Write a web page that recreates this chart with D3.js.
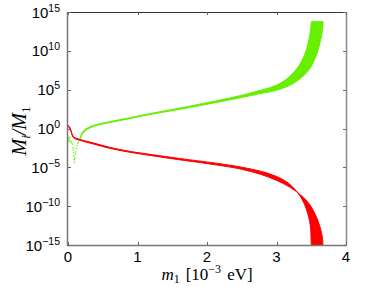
<!DOCTYPE html>
<html><head><meta charset="utf-8">
<script src="https://cdn.jsdelivr.net/npm/d3@7"></script>
<style>body{margin:0;background:#fff}svg{display:block}</style>
</head><body><svg id="c" width="382" height="287"></svg>
<script>
// values as [m1 (10^-3 eV), log10(Mi/M1)]
const greenUpper = [[0.17,-1.45],[0.2,-0.6],[0.25,-0.1],[0.36,0.38],[0.6,0.88],[0.85,1.32],[1.18,1.92],[1.6,2.62],[2.14,3.58],[2.5,4.28],[2.77,4.92],[2.98,5.5],[3.15,6.4],[3.3,7.8],[3.4,9.4],[3.46,11.2],[3.49,12.7],[3.5,13.75]];
const greenLower = [[0.17,-1.55],[0.2,-0.8],[0.25,-0.28],[0.36,0.25],[0.6,0.76],[0.85,1.2],[1.18,1.8],[1.6,2.46],[2.14,3.36],[2.5,4.0],[2.77,4.5],[2.98,4.88],[3.2,5.6],[3.39,6.8],[3.5,8.0],[3.58,9.6],[3.63,11.2],[3.66,12.6],[3.67,13.75]];
const greenDots = [[0.005,-1.2],[0.01,-1.5],[0.015,-1.7],[0.02,-1.3],[0.03,-1.1],[0.04,-1.6],[0.05,-1.8],[0.06,-2.0],[0.07,-2.5],[0.075,-2.8],[0.08,-3.1],[0.085,-3.5],[0.09,-4.0],[0.095,-4.3],[0.1,-3.8],[0.105,-3.3],[0.11,-3.0],[0.12,-2.6],[0.13,-2.2],[0.14,-1.9],[0.15,-1.75]];
const redUpper = [[0,0.45],[0.03,0.1],[0.08,-1.05],[0.17,-1.4],[0.36,-1.85],[0.6,-2.42],[0.85,-2.88],[1.18,-3.33],[1.6,-3.85],[2.14,-4.48],[2.5,-4.98],[2.77,-5.5],[2.98,-6.1],[3.15,-6.9],[3.3,-8.2],[3.4,-9.7],[3.46,-11.3],[3.49,-12.8],[3.5,-15.5]];
const redLower = [[0,0.3],[0.03,-0.05],[0.08,-1.2],[0.17,-1.52],[0.36,-1.98],[0.6,-2.55],[0.85,-3.0],[1.18,-3.47],[1.6,-4.02],[2.14,-4.7],[2.5,-5.25],[2.77,-5.9],[2.98,-6.6],[3.2,-7.6],[3.39,-8.9],[3.5,-10.1],[3.58,-11.5],[3.63,-12.8],[3.66,-14.0],[3.67,-15.5]];
const xTicks = [0,1,2,3,4];
const yTickExps = [15,10,5,0,-5,-10,-15];

const L=68,T=12,R=346,B=245;
const svg=d3.select('#c');
const x=d3.scaleLinear().domain([0,4]).range([L,R]);
const y=d3.scaleLinear().domain([-15,15]).range([B,T]);

svg.append('defs').append('clipPath').attr('id','cp').append('rect')
 .attr('x',L).attr('y',T).attr('width',R-L).attr('height',B-T);
const g=svg.append('g').attr('clip-path','url(#cp)');
const cl=d3.line().x(d=>x(d[0])).y(d=>y(d[1])).curve(d3.curveCatmullRom.alpha(0.5));
function band(up,lo,col){
  const a=cl(up), b=cl(lo.slice().reverse());
  g.append('path').attr('d',a+'L'+b.slice(1)+'Z').attr('fill',col).attr('stroke',col).attr('stroke-width',1).attr('stroke-linejoin','round');
}
band(greenUpper,greenLower,'#66f000');
band(redUpper,redLower,'#ff0000');
g.selectAll('rect.gd').data(greenDots).enter().append('rect').attr('class','gd')
 .attr('x',d=>x(d[0])-0.6).attr('y',d=>y(d[1])-0.6).attr('width',1.3).attr('height',1.3).attr('fill','#66f000');

// frame
const ax=svg.append('g');
ax.append('line').attr('x1',L).attr('x2',R).attr('y1',T+0.5).attr('y2',T+0.5).attr('stroke','#333').attr('stroke-width',1);
ax.append('line').attr('x1',R+0.5).attr('x2',R+0.5).attr('y1',T).attr('y2',B).attr('stroke','#888').attr('stroke-width',1.5);
ax.append('line').attr('x1',L-0.5).attr('x2',L-0.5).attr('y1',T).attr('y2',B+1).attr('stroke','#777').attr('stroke-width',1.5);
ax.append('line').attr('x1',L-1).attr('x2',R+1).attr('y1',B+0.5).attr('y2',B+0.5).attr('stroke','#777').attr('stroke-width',1.5);

// ticks
xTicks.forEach(t=>{
  const px=Math.round(x(t))+0.5;
  ax.append('line').attr('x1',px).attr('x2',px).attr('y1',B).attr('y2',B-3).attr('stroke','#666');
  ax.append('line').attr('x1',px).attr('x2',px).attr('y1',T).attr('y2',T+3).attr('stroke','#666');
  ax.append('text').attr('x',x(t)).attr('y',262).attr('text-anchor','middle')
   .attr('font-family','Liberation Sans, Arial, sans-serif').attr('font-size',15).text(t);
});
yTickExps.forEach(e=>{
  const py=Math.round(y(e))+0.5;
  ax.append('line').attr('x1',L).attr('x2',L+3).attr('y1',py).attr('y2',py).attr('stroke','#666');
  ax.append('line').attr('x1',R).attr('x2',R-3).attr('y1',py).attr('y2',py).attr('stroke','#666');
  const t=ax.append('text').attr('x',L-8).attr('y',y(e)+5.5).attr('text-anchor','end')
   .attr('font-family','Liberation Sans, Arial, sans-serif').attr('font-size',15);
  t.append('tspan').text('10');
  t.append('tspan').attr('dy',-6).attr('font-size',10.5).text(e<0?'\u2212'+(-e):String(e));
});

// axis labels
const xl=svg.append('text').attr('x',(L+R)/2).attr('y',280).attr('text-anchor','middle')
 .attr('font-family','Liberation Serif, DejaVu Serif, serif').attr('font-size',17);
xl.append('tspan').attr('font-style','italic').text('m');
xl.append('tspan').attr('font-size',12).attr('dy',3).text('1');
xl.append('tspan').attr('dy',-3).attr('dx',6).text('[10');
xl.append('tspan').attr('font-size',12).attr('dy',-7).text('\u22123');
xl.append('tspan').attr('dy',7).attr('dx',6).text('eV]');

const yl=svg.append('text').attr('transform','translate(26,131) rotate(-90)').attr('text-anchor','middle')
 .attr('font-family','Liberation Serif, DejaVu Serif, serif').attr('font-size',20);
yl.append('tspan').attr('font-style','italic').text('M');
yl.append('tspan').attr('font-style','italic').attr('font-size',13).attr('dy',4).text('i');
yl.append('tspan').attr('dy',-4).attr('font-style','italic').text('/M');
yl.append('tspan').attr('font-size',13).attr('dy',4).text('1');
</script></body></html>
